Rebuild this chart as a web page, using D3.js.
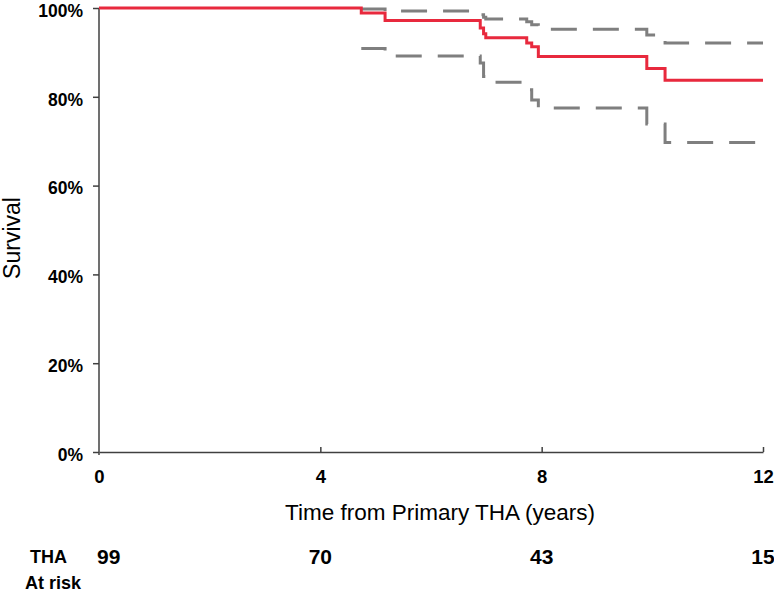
<!DOCTYPE html>
<html>
<head>
<meta charset="utf-8">
<script src="https://cdn.jsdelivr.net/npm/d3@7"></script>
<style>
  html, body { margin: 0; padding: 0; background: #fff; }
  svg { display: block; }
  text { font-family: "Liberation Sans", Arial, sans-serif; fill: #000; }
</style>
</head>
<body>
<svg id="chart" width="774" height="595"></svg>
<script>
// ---- data ----
const kmTimes   = [0, 4.74, 5.17, 6.89, 6.95, 6.99, 7.73, 7.82, 7.94, 9.90, 10.23, 12];
const kmSurv    = [100, 98.9, 97.2, 95.5, 94.2, 93.3, 92.1, 91.3, 89.1, 86.4, 83.7, 83.7];
const ciTimes   = [4.74, 5.17, 6.89, 6.95, 6.99, 7.73, 7.82, 7.94, 9.90, 10.23, 12];
const ciUpper   = [99.8, 99.3, 98.5, 97.9, 97.5, 96.9, 96.2, 95.2, 93.9, 92.1, 92.1];
const ciLower   = [90.9, 89.2, 87.6, 84.6, 83.3, 81.6, 79.3, 77.5, 73.9, 69.7, 69.7];
const xTicks    = [0, 4, 8, 12];
const yTicks    = [0, 20, 40, 60, 80, 100];
const riskTimes = [0, 4, 8, 12];
const riskTHA   = [99, 70, 43, 15];

// ---- layout ----
const svg = d3.select("#chart");
const x = d3.scaleLinear().domain([0, 12]).range([99, 763]);
const y = d3.scaleLinear().domain([0, 100]).range([452, 8]);

const axisColor = "#404040";

// y axis
const gy = svg.append("g").attr("transform", `translate(${x(0)},0)`)
  .call(d3.axisLeft(y).tickValues(yTicks).tickSize(6).tickSizeOuter(0)
    .tickFormat(d => d + "%"));
gy.select(".domain").attr("stroke", axisColor).attr("stroke-width", 1.5)
  .attr("d", `M0,${y(100)}V${y(0) + 3}`);
gy.selectAll(".tick line").attr("stroke", axisColor).attr("stroke-width", 1.5);
gy.selectAll(".tick text").attr("x", -16).attr("dy", "0.47em")
  .style("font-size", "17.5px").style("font-weight", "bold")
  .style("font-family", "'Liberation Sans', Arial, sans-serif");

// x axis
const gx = svg.append("g").attr("transform", `translate(0,${y(0)})`)
  .call(d3.axisBottom(x).tickValues(xTicks).tickSize(-5).tickSizeOuter(0)
    .tickFormat(d3.format("d")));
gx.select(".domain").attr("stroke", axisColor).attr("stroke-width", 1.5);
gx.selectAll(".tick line").attr("stroke", axisColor).attr("stroke-width", 1.5)
  .filter(d => d === 0).remove();
gx.selectAll(".tick text").attr("y", 31).attr("dy", 0)
  .style("font-size", "18.5px").style("font-weight", "bold")
  .style("font-family", "'Liberation Sans', Arial, sans-serif");

// axis titles
svg.append("text")
  .attr("transform", `translate(20,${(y(0) + y(100)) / 2 + 8}) rotate(-90)`)
  .attr("text-anchor", "middle")
  .style("font-size", "23px")
  .text("Survival");

svg.append("text")
  .attr("x", (x(0) + x(12)) / 2 + 9)
  .attr("y", 520)
  .attr("text-anchor", "middle")
  .style("font-size", "22.5px")
  .text("Time from Primary THA (years)");

// curves
const line = d3.line().curve(d3.curveStepAfter)
  .x(d => x(d[0])).y(d => y(d[1]));

const upperPts = ciTimes.map((t, i) => [t, ciUpper[i]]);
const lowerPts = ciTimes.map((t, i) => [t, ciLower[i]]);
const kmPts = kmTimes.map((t, i) => [t, kmSurv[i]]);

[upperPts, lowerPts].forEach(pts => {
  svg.append("path").datum(pts)
    .attr("d", line)
    .attr("fill", "none")
    .attr("stroke", "#7f7f7f")
    .attr("stroke-width", 3)
    .attr("stroke-dasharray", "26,16");
});

svg.append("path").datum(kmPts)
  .attr("d", line)
  .attr("fill", "none")
  .attr("stroke", "#e8293d")
  .attr("stroke-width", 3);

// at-risk table
svg.append("text").attr("x", 30).attr("y", 563)
  .style("font-size", "18px").style("font-weight", "bold").text("THA");
svg.append("text").attr("x", 25).attr("y", 589)
  .style("font-size", "18px").style("font-weight", "bold").text("At risk");

svg.selectAll("text.risk").data(riskTimes).enter().append("text")
  .attr("class", "risk")
  .attr("x", (d, i) => i === 0 ? x(d) - 2 : x(d))
  .attr("y", 564)
  .attr("text-anchor", (d, i) => i === 0 ? "start" : "middle")
  .style("font-size", "21px").style("font-weight", "bold")
  .text((d, i) => riskTHA[i]);
</script>
</body>
</html>
